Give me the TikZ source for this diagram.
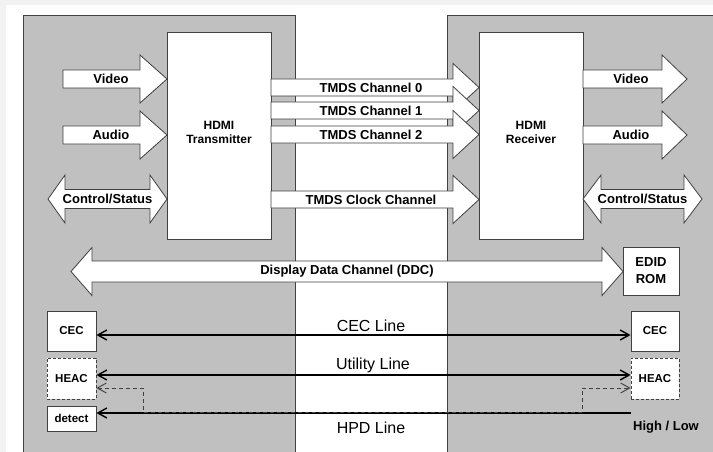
\documentclass[tikz,border=0pt]{standalone}
\usepackage{fontspec}
\setmainfont{Liberation Sans}
\usetikzlibrary{arrows.meta}

\definecolor{panel}{HTML}{C0C0C0}
\definecolor{page}{HTML}{F2F2F2}
\definecolor{edge}{HTML}{404040}

\tikzset{
  fat/.style={draw=edge, fill=white, line width=0.8pt, line join=miter},
  lbl/.style={font=\bfseries\fontsize{13}{15}\selectfont, inner sep=0pt},
  box/.style={draw=edge, fill=white, line width=0.9pt, inner sep=0pt, align=center,
              font=\bfseries\fontsize{11.5}{14}\selectfont},
  chip/.style={box, font=\bfseries\fontsize{12}{14}\selectfont},
  wire/.style={draw=black, line width=1.4pt},
  hint/.style={draw=edge, line width=0.9pt, dash pattern=on 4pt off 3pt},
  wirelbl/.style={font=\fontsize{16}{18}\selectfont, inner sep=0pt}
}

% single fat arrow: tail x, tip x, y, shaft half, head length, label
\newcommand{\fatright}[6]{%
  \draw[fat] (#1,{#3-#4}) -- ({#2-#5},{#3-#4}) -- ({#2-#5},{#3-24}) -- (#2,#3)
     -- ({#2-#5},{#3+24}) -- ({#2-#5},{#3+#4}) -- (#1,{#3+#4}) -- cycle;
  \node[lbl] at ({(#1+#2)/2-4},#3) {#6};}
% double fat arrow: left tip x, right tip x, y, shaft half, head length, label
\newcommand{\fatboth}[6]{%
  \draw[fat] (#1,#3) -- ({#1+#5},{#3-24}) -- ({#1+#5},{#3-#4}) -- ({#2-#5},{#3-#4})
     -- ({#2-#5},{#3-24}) -- (#2,#3) -- ({#2-#5},{#3+24}) -- ({#2-#5},{#3+#4})
     -- ({#1+#5},{#3+#4}) -- ({#1+#5},{#3+24}) -- cycle;
  \node[lbl] at ({(#1+#2)/2},#3) {#6};}

\begin{document}
\begin{tikzpicture}[x=1pt, y=-1pt, >={Straight Barb[length=9pt,width=10pt]}]
  \useasboundingbox (0,0) rectangle (713,452);
  \fill[page] (0,0) rectangle (713,452);
  \fill[white] (6,5) rectangle (713,452);

  % source and sink panels
  \draw[edge, fill=panel, line width=0.9pt] (23,15) rectangle (295,470);
  \draw[edge, fill=panel, line width=0.9pt] (447,15) rectangle (730,470);

  \node[chip, minimum width=104pt, minimum height=207pt] (tx) at (219,135.5) {};
  \node[lbl, align=center, font=\bfseries\fontsize{12}{14}\selectfont] (txt) at (219,132) {HDMI\\Transmitter};
  \node[chip, minimum width=104pt, minimum height=207pt] (rx) at (531,135.5) {};
  \node[lbl, align=center, font=\bfseries\fontsize{12}{14}\selectfont] (rxt) at (531,132) {HDMI\\Receiver};

  % inputs
  \fatright{63}{167}{79}{9}{27}{Video}
  \fatright{63}{167}{135}{9}{27}{Audio}
  \fatboth{48}{167}{199}{9.5}{17}{Control/Status}

  % TMDS links
  \fatright{271}{479}{87.5}{8.5}{26}{TMDS Channel 0}
  \fatright{271}{479}{110.5}{8.5}{26}{TMDS Channel 1}
  \fatright{271}{479}{134.5}{8.5}{26}{TMDS Channel 2}
  \fatright{271}{479}{199.5}{8.5}{26}{TMDS Clock Channel}

  % outputs
  \fatright{583}{687}{79}{9}{25}{Video}
  \fatright{583}{687}{135}{9}{25}{Audio}
  \fatboth{583}{702}{199}{9.5}{18}{Control/Status}

  % DDC
  \fatboth{71}{623}{271.5}{10.5}{21}{Display Data Channel (DDC)}
  \node[box, font=\bfseries\fontsize{13}{17}\selectfont, minimum width=56pt, minimum height=48pt] (edid) at (651,271) {EDID\\ROM};

  % low speed lines
  \node[box, minimum width=49pt, minimum height=40pt] (cecL) at (71.5,331) {CEC};
  \node[box, minimum width=48pt, minimum height=40pt] (cecR) at (655,331) {CEC};
  \node[box, dash pattern=on 3pt off 2pt, minimum width=49pt, minimum height=41pt] (heacL) at (71.5,378.5) {HEAC};
  \node[box, dash pattern=on 3pt off 2pt, minimum width=48pt, minimum height=41pt] (heacR) at (655,378.5) {HEAC};
  \node[box, minimum width=49pt, minimum height=25pt] (detect) at (71.5,418.5) {detect};
  \coordinate (hpd) at (631,413);

  \draw[wire, <->] ([yshift=-4pt]cecL.east) -- ([yshift=-4pt]cecR.west);
  \draw[wire, <->] ([yshift=3.5pt]heacL.east) -- ([yshift=3.5pt]heacR.west);
  \draw[wire, <-] (detect.east |- hpd) -- (hpd);
  \draw[hint, <->] ([yshift=-9.5pt]heacL.east) -| (143,412) -| (582,388) -- ([yshift=-9.5pt]heacR.west);

  \node[wirelbl] (cecl) at (371,326) {CEC Line};
  \node[wirelbl] (utl) at (373,365) {Utility Line};
  \node[wirelbl] (hpdl) at (371,428) {HPD Line};
  \node[lbl] (hilo) at (666,427) {High / Low};
\end{tikzpicture}
\end{document}
